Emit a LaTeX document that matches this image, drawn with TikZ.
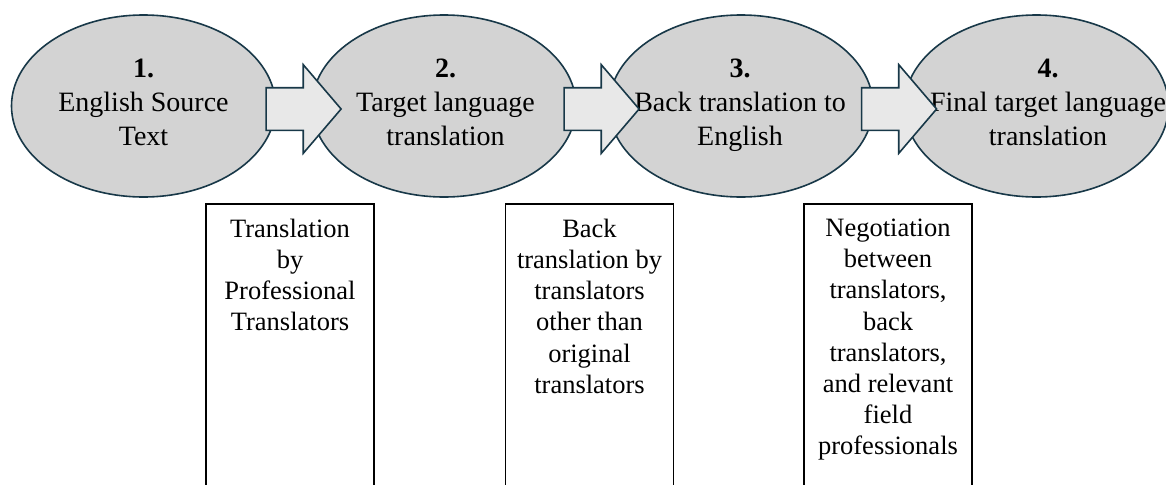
\documentclass[tikz,border=0pt]{standalone}
\usepackage{fontspec}
\setmainfont{Liberation Serif}
\usetikzlibrary{shapes.geometric,shapes.arrows,positioning}
\definecolor{stageline}{RGB}{24,56,72}
\definecolor{stagefill}{RGB}{211,211,211}
\definecolor{arrowfill}{RGB}{232,232,232}

\begin{document}
\begin{tikzpicture}[
    x=0.5pt, y=0.5pt,
    stage/.style={draw=stageline, ellipse, fill=stagefill, line width=0.8pt, minimum width=132pt, minimum height=91pt, inner sep=0pt},
    stagetext/.style={align=center, inner sep=0pt, text depth=3.75pt, font=\fontsize{14pt}{17pt}\selectfont},
    stagearrow/.style={single arrow, draw=stageline, fill=arrowfill, line width=0.8pt, minimum height=37.5pt, inner xsep=0pt, inner ysep=10.25pt, single arrow head extend=11.5pt, single arrow tip angle=99},
    notebox/.style={draw=black, line width=0.8pt, minimum width=84pt, minimum height=150pt, anchor=north, inner sep=0pt},
    notetext/.style={align=center, inner sep=0pt, font=\fontsize{13.25pt}{15.6pt}\selectfont}
]

\clip (0,0) rectangle (1166,484);

% Stages, one row along the top
\node[stage] (s1) at (143.5,378) {};
\node[stage] (s2) at (444,378) {};
\node[stage] (s3) at (741,378) {};
\node[stage] (s4) at (1036.5,378) {};

\node[stagetext] (t1) at (s1) {\textbf{1.}\\English Source\\Text};
\node[stagetext, xshift=0.75pt] (t2) at (s2) {\textbf{2.}\\Target language\\translation};
\node[stagetext, xshift=-0.5pt] (t3) at (s3) {\textbf{3.}\\Back translation to\\English};
% last one runs past the ellipse on the right
\node[stagetext, xshift=5.75pt] (t4) at (s4) {\textbf{4.}\\Final target language\\translation};

% Block arrows between the stages, drawn on top
\node[stagearrow] (a1) at (294.5,375) {};
\node[stagearrow] (a2) at (592.5,375) {};
\node[stagearrow] (a3) at (890,375) {};

% Notes under the arrows, running off the bottom
\node[notebox] (b1) at (290,281) {};
\node[notebox] (b2) at (589.5,281) {};
\node[notebox] (b3) at (888,281) {};

\node[notetext, anchor=north, below=7.8pt of b1.north] (n1) {Translation\\by\\Professional\\Translators};
\node[notetext, anchor=north, below=7.8pt of b2.north] (n2) {Back\\translation by\\translators\\other than\\original\\translators};
\node[notetext, anchor=north, below=7.8pt of b3.north] (n3) {Negotiation\\between\\translators,\\back\\translators,\\and relevant\\field\\professionals};

\end{tikzpicture}
\end{document}
